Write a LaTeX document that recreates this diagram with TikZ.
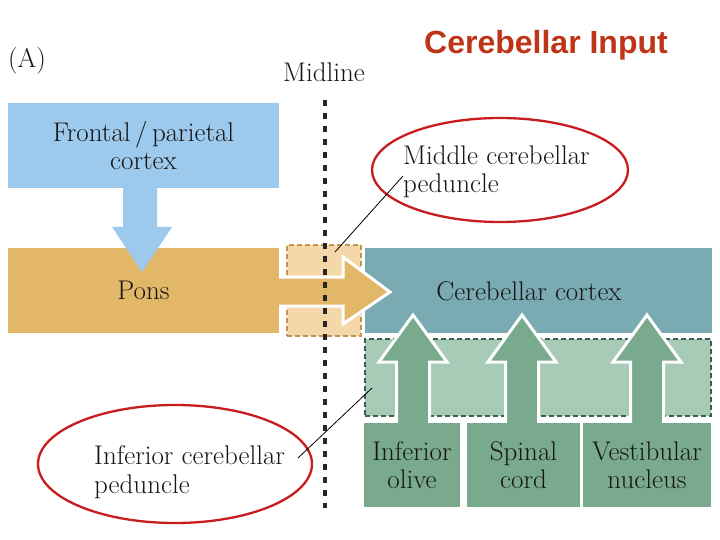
\documentclass[tikz,border=0pt]{standalone}
\usepackage{fontspec}
\newfontfamily\titlefont{Liberation Sans}
\usetikzlibrary{shapes.geometric}
\definecolor{bluebox}{RGB}{157,201,236}
\definecolor{tanbox}{RGB}{226,183,104}
\definecolor{lighttan}{RGB}{244,216,170}
\definecolor{tandash}{RGB}{196,150,84}
\definecolor{tealbox}{RGB}{122,170,178}
\definecolor{lightgreen}{RGB}{168,203,184}
\definecolor{greenbox}{RGB}{122,170,142}
\definecolor{greendash}{RGB}{60,96,78}
\definecolor{txt}{RGB}{22,22,22}
\definecolor{ringred}{RGB}{200,28,30}
\definecolor{titlered}{RGB}{190,52,22}
\begin{document}
\begin{tikzpicture}[x=1pt,y=-1pt,
  font=\fontsize{27}{28.5}\selectfont,
  box/.style={rectangle, inner sep=0pt, align=center, text=txt},
  lbl/.style={inner sep=0pt, align=left, text=txt},
  ring/.style={ellipse, draw=ringred, line width=2.3pt, inner sep=0pt},
  leader/.style={draw=black, line width=0.8pt},
  fatarrow/.style={draw=white, line width=3pt, line join=miter},
  midline/.style={draw=black!85, line width=3.5pt, dash pattern=on 6pt off 7pt},
  titlestyle/.style={font=\titlefont\bfseries\fontsize{32}{36}\selectfont}
]
\useasboundingbox (0,0) rectangle (720,540);
\fill[white] (0,0) rectangle (720,540);

% title
\node[titlestyle, text=titlered] (title) at (546,45) {Cerebellar Input};

\node[lbl] (lab) at (27,61) {(A)};
\node[lbl] (midlbl) at (324,72) {Midline};

% boxes
\node[box, fill=bluebox, minimum width=271pt, minimum height=85pt] (front) at (143.5,145.5) {Frontal\,/\,parietal\\cortex};
\node[box, fill=tealbox, minimum width=347pt, minimum height=85pt] (cortex) at (538.5,290.5) {};
\node[box, fill=lighttan, draw=tandash, line width=1.2pt, dash pattern=on 5pt off 3pt, minimum width=74pt, minimum height=91pt] (ltan) at (324,290.5) {};
\node[box, fill=lightgreen, draw=greendash, line width=1.2pt, dash pattern=on 5pt off 3pt, minimum width=346pt, minimum height=77pt] (lgreen) at (538,377.5) {};

% pons arrow
\draw[fatarrow, fill=tanbox] (270,277) -- (343,277) -- (343,257) -- (390,292) -- (343,324) -- (343,306) -- (270,306) -- cycle;
\node[box, fill=tanbox, minimum width=271pt, minimum height=85pt] (pons) at (143.5,290.5) {Pons};
\node[box] (cortexlbl) at (529,291) {Cerebellar cortex};

% blue arrow
\fill[bluebox] (123,185) -- (157,185) -- (157,227) -- (172,227) -- (142,272) -- (112,227) -- (123,227) -- cycle;

% green arrows
\foreach \cx in {413,522,647}{
  \draw[fatarrow, fill=greenbox] (\cx-16.5,430) -- (\cx-16.5,362) -- (\cx-34,362) -- (\cx,315) -- (\cx+34,362) -- (\cx+16.5,362) -- (\cx+16.5,430) -- cycle;
}
\node[box, fill=greenbox, minimum width=96pt, minimum height=84pt] (olive) at (412,465) {Inferior\\olive};
\node[box, fill=greenbox, minimum width=113pt, minimum height=84pt] (spinal) at (523.5,465) {Spinal\\cord};
\node[box, fill=greenbox, minimum width=128pt, minimum height=84pt] (vest) at (647,465) {Vestibular\\nucleus};

% midline
\coordinate (mtop) at (325,100);
\coordinate (mbot) at (325,508);
\draw[midline] (mtop) -- (mbot);

% labels and rings
\node[lbl, anchor=west] (mcp) at (403,172) {Middle cerebellar\\peduncle};
\node[ring, minimum width=256pt, minimum height=104pt] (ring1) at (500,170) {};
\coordinate (mcpend) at (335,252);
\draw[leader] ([yshift=-4pt]mcp.west) -- (mcpend);

\node[lbl, anchor=west] (icp) at (94,472) {Inferior cerebellar\\peduncle};
\node[ring, minimum width=274pt, minimum height=118pt] (ring2) at (175,464) {};
\coordinate (icpstart) at (298,458);
\coordinate (icpend) at (372,388);
\draw[leader] (icpstart) -- (icpend);
\end{tikzpicture}
\end{document}
